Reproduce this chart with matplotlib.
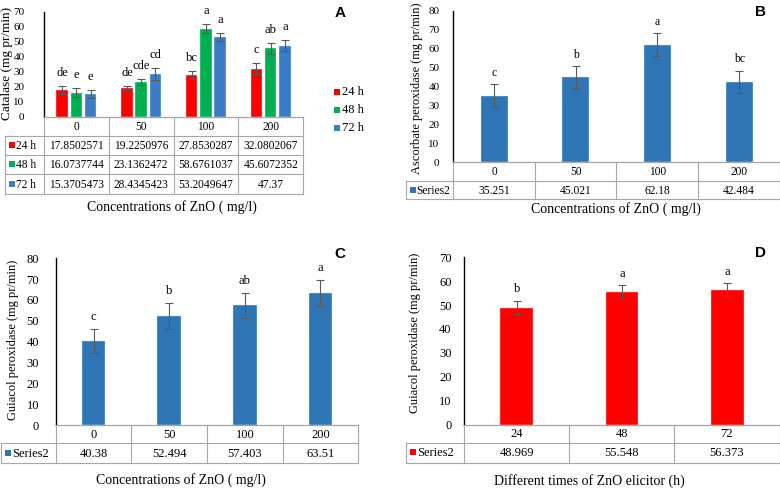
import matplotlib
matplotlib.use('Agg')
import matplotlib.pyplot as plt
from matplotlib.patches import Rectangle
import numpy as np

# ---------------- data ----------------
conc = ['0', '50', '100', '200']
times_A = ['24 h', '48 h', '72 h']
cat_24 = [17.8502571, 19.2250976, 27.8530287, 32.0802067]
cat_48 = [16.0737744, 23.1362472, 58.6761037, 45.6072352]
cat_72 = [15.3705473, 28.4345423, 53.2049647, 47.37]
cat_err_24 = [2.4, 1.2, 2.6, 3.5]
cat_err_48 = [2.8, 1.8, 3.0, 3.7]
cat_err_72 = [2.6, 3.8, 2.8, 3.5]
cat_let_24 = ['de', 'de', 'bc', 'c']
cat_let_48 = ['e', 'cde', 'a', 'ab']
cat_let_72 = ['e', 'cd', 'a', 'a']

apx = [35.251, 45.021, 62.18, 42.484]
apx_err = [6.0, 5.7, 6.0, 6.0]
apx_let = ['c', 'b', 'a', 'bc']

gpx = [40.38, 52.494, 57.403, 63.51]
gpx_err = [5.7, 6.2, 6.0, 6.3]
gpx_let = ['c', 'b', 'ab', 'a']

times_D = ['24', '48', '72']
gpx_t = [48.969, 55.548, 56.373]
gpx_t_err = [2.8, 2.8, 2.8]
gpx_t_let = ['b', 'a', 'a']

series_name = 'Series2'

RED = '#FF0000'
GREEN = '#00B050'
BLUE_A = '#3A7DC6'
BLUE = '#2E75B6'
GRID = '#A6A6A6'
ERR = '#595959'
SERIF = 'Liberation Serif'
SANS = 'Liberation Sans'

W, H = 780, 490
fig = plt.figure(figsize=(7.8, 4.9), dpi=100)

ov = fig.add_axes([0, 0, 1, 1], zorder=5)
ov.set_xlim(0, W)
ov.set_ylim(H, 0)
ov.axis('off')
ov.patch.set_alpha(0)


def ax_px(x0, y0, x1, y1):
    return fig.add_axes([x0 / W, 1 - y1 / H, (x1 - x0) / W, (y1 - y0) / H])


def style_axes(ax, ymax, step, pad, fs):
    ax.set_ylim(0, ymax)
    ax.set_yticks(np.arange(0, ymax + 0.1, step))
    ax.tick_params(axis='y', length=0, pad=pad, labelsize=fs)
    for lab in ax.get_yticklabels():
        lab.set_fontfamily(SERIF)
    ax.set_xticks([])
    for s in ['top', 'right']:
        ax.spines[s].set_visible(False)
    ax.spines['left'].set_color('black')
    ax.spines['left'].set_linewidth(1.0)
    ax.spines['bottom'].set_color('#7F7F7F')
    ax.spines['bottom'].set_linewidth(0.8)
    ax.patch.set_alpha(0)


def draw_table(x_axis, x_left, x_right, rows_y, cats, row_names, row_colors,
               row_values, fs):
    n = len(cats)
    cols = np.linspace(x_axis, x_right, n + 1)
    y0 = rows_y[0]
    ybot = rows_y[-1]
    lw = 0.8
    for i, y in enumerate(rows_y):
        xs = x_axis if i == 0 else x_left
        ov.plot([xs, x_right], [y, y], color=GRID, lw=lw)
    ov.plot([x_left, x_left], [rows_y[1], ybot], color=GRID, lw=lw)
    for c in cols:
        ov.plot([c, c], [y0, ybot], color=GRID, lw=lw)
    for j, cat in enumerate(cats):
        ov.text((cols[j] + cols[j + 1]) / 2, (rows_y[0] + rows_y[1]) / 2 + 0.5,
                cat, ha='center', va='center', fontsize=fs, family=SERIF)
    for r, (name, col, vals) in enumerate(zip(row_names, row_colors, row_values)):
        yc = (rows_y[r + 1] + rows_y[r + 2]) / 2
        ov.add_patch(Rectangle((x_left + 4, yc - 3.5), 6, 6, color=col, lw=0))
        ov.text(x_left + 11, yc + 0.5, name, ha='left', va='center', fontsize=fs,
                family=SERIF)
        for j, v in enumerate(vals):
            ov.text((cols[j] + cols[j + 1]) / 2, yc + 0.5, str(v), ha='center',
                    va='center', fontsize=fs, family=SERIF)


def letters(ax, xs, vals, errs, labs, off, fs):
    for x, v, e, l in zip(xs, vals, errs, labs):
        ax.annotate(l, (x, v + e), xytext=(0, off), textcoords='offset points',
                    ha='center', va='bottom', fontsize=fs, family=SERIF)


# ---------------- Panel A ----------------
axA = ax_px(44, 11.7, 303, 116.7)
style_axes(axA, 70, 10, 14, 8)
xA = np.arange(len(conc))
bw = 0.18
pitch = 0.22
for k, (vals, errs, col, labs) in enumerate([
        (cat_24, cat_err_24, RED, cat_let_24),
        (cat_48, cat_err_48, GREEN, cat_let_48),
        (cat_72, cat_err_72, BLUE_A, cat_let_72)]):
    xs = xA + (k - 1) * pitch
    axA.bar(xs, vals, width=bw, color=col, edgecolor='#DDE6F0', linewidth=0.3)
    axA.errorbar(xs, vals, yerr=errs, fmt='none', ecolor=ERR, capsize=3,
                 elinewidth=0.8, capthick=0.8)
    letters(axA, xs, vals, errs, labs, 5, 9)
axA.set_xlim(-0.5, len(conc) - 0.5)
draw_table(44, 4.5, 303, [116.7, 136, 155.3, 174.5, 194], conc, times_A,
           [RED, GREEN, BLUE_A], [cat_24, cat_48, cat_72], 8.3)
ov.text(172, 207, 'Concentrations of ZnO ( mg/l)', ha='center', va='center',
        fontsize=10, family=SERIF)
ov.text(7, 63, 'Catalase (mg pr/min)', ha='center', va='center', rotation=90,
        fontsize=9.5, family=SERIF)
for i, (name, col) in enumerate(zip(times_A, [RED, GREEN, BLUE_A])):
    y = 92 + i * 18
    ov.add_patch(Rectangle((334, y - 3), 6, 6, color=col, lw=0))
    ov.text(342, y, name, ha='left', va='center', fontsize=9, family=SERIF)
ov.text(340, 13, 'A', ha='center', va='center', fontsize=11, family=SANS,
        fontweight='bold')

# ---------------- Panel B ----------------
axB = ax_px(453.3, 11, 780, 162.3)
style_axes(axB, 80, 10, 10, 8)
xB = np.arange(len(conc))
axB.bar(xB, apx, width=0.33, color=BLUE, edgecolor='#DDE6F0', linewidth=0.3)
axB.errorbar(xB, apx, yerr=apx_err, fmt='none', ecolor=ERR, capsize=3,
             elinewidth=0.8, capthick=0.8)
letters(axB, xB, apx, apx_err, apx_let, 4, 8.5)
axB.set_xlim(-0.5, len(conc) - 0.5)
draw_table(453.3, 405.7, 779.5, [162.3, 181, 199.3], conc, [series_name], [BLUE],
           [apx], 8.3)
ov.text(616, 209, 'Concentrations of ZnO ( mg/l)', ha='center', va='center',
        fontsize=10, family=SERIF)
ov.text(417, 88, 'Ascorbate peroxidase (mg pr/min)', ha='center', va='center',
        rotation=90, fontsize=9, family=SERIF)
ov.text(760, 12, 'B', ha='center', va='center', fontsize=11, family=SANS,
        fontweight='bold')

# ---------------- Panel C ----------------
axC = ax_px(55.7, 258.3, 358.3, 425)
style_axes(axC, 80, 10, 12, 9)
xC = np.arange(len(conc))
axC.bar(xC, gpx, width=0.31, color=BLUE, edgecolor='#DDE6F0', linewidth=0.3)
axC.errorbar(xC, gpx, yerr=gpx_err, fmt='none', ecolor=ERR, capsize=3,
             elinewidth=0.8, capthick=0.8)
letters(axC, xC, gpx, gpx_err, gpx_let, 4, 9)
axC.set_xlim(-0.5, len(conc) - 0.5)
draw_table(55.7, 1, 358.3, [425, 443.3, 462.7], conc, [series_name], [BLUE],
           [gpx], 9)
ov.text(181, 480, 'Concentrations of ZnO ( mg/l)', ha='center', va='center',
        fontsize=10, family=SERIF)
ov.text(13, 340, 'Guiacol peroxidase (mg pr/min)', ha='center', va='center',
        rotation=90, fontsize=9, family=SERIF)
ov.text(340, 254, 'C', ha='center', va='center', fontsize=11, family=SANS,
        fontweight='bold')

# ---------------- Panel D ----------------
axD = ax_px(464, 257.3, 780, 424.5)
style_axes(axD, 70, 10, 9, 9)
xD = np.arange(len(times_D))
axD.bar(xD, gpx_t, width=0.31, color=RED, edgecolor='#F5D0D0', linewidth=0.3)
axD.errorbar(xD, gpx_t, yerr=gpx_t_err, fmt='none', ecolor=ERR, capsize=3,
             elinewidth=0.8, capthick=0.8)
letters(axD, xD, gpx_t, gpx_t_err, gpx_t_let, 4, 9)
axD.set_xlim(-0.5, len(times_D) - 0.5)
draw_table(464, 406, 779.5, [424.5, 443, 462.7], times_D, [series_name], [RED],
           [gpx_t], 9)
ov.text(589, 481, 'Different times of ZnO elicitor (h)', ha='center',
        va='center', fontsize=10, family=SERIF)
ov.text(415, 333, 'Guiacol peroxidase (mg pr/min)', ha='center', va='center',
        rotation=90, fontsize=9, family=SERIF)
ov.text(760, 253, 'D', ha='center', va='center', fontsize=11, family=SANS,
        fontweight='bold')

fig.savefig('out.png', dpi=100)
